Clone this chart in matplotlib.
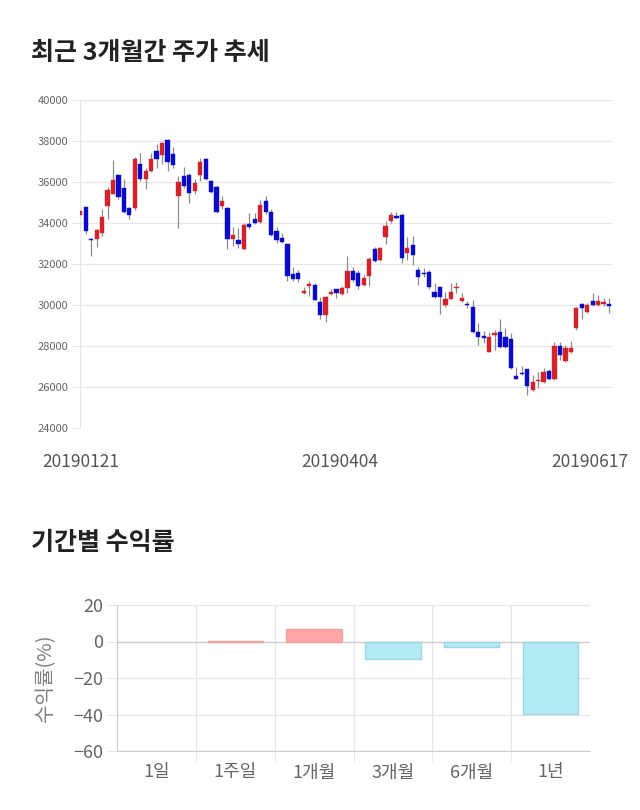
import numpy as np
import matplotlib
matplotlib.use("Agg")
import matplotlib.pyplot as plt
import matplotlib.transforms as mtransforms

plt.rcParams['font.family'] = ['Noto Sans CJK KR', 'DejaVu Sans']

# ---------------------------------------------------------------
# daily candles, 2019-01-21 .. 2019-06-17
# ---------------------------------------------------------------
opens = [34400, 34800, 33200, 33240, 33530, 34830, 35430, 36360, 35690, 34750,
         34715, 36860, 36130, 36550, 37530, 37300, 38050, 37350, 35320, 36290,
         36340, 35560, 36340, 37140, 36050, 35770, 34830, 34750, 33240, 33150,
         32750, 33970, 34195, 34065, 35070, 34520, 33630, 33250, 32980, 31510,
         31545, 30570, 30950, 30975, 30160, 29510, 30540, 30764, 30520, 30813,
         31675, 31545, 30975, 31415, 32716, 32195, 33333, 34114, 34300, 34390,
         32520, 32927, 31707, 31550, 31626, 30618, 30862, 30000, 30293, 30830,
         30211, 30020, 29886, 28699, 28440, 27723, 28550, 28699, 28456, 28326,
         26537, 26670, 26862, 25854, 26270, 26260, 26797, 26374, 28000, 27285,
         27692, 28862, 30033, 29643, 30212, 30000, 30049, 30049]
highs = [34850, 34800, 33250, 33700, 34670, 35770, 37060, 36400, 36130, 34800,
         37240, 37400, 36700, 37400, 37840, 37950, 38100, 37700, 36290, 36750,
         36450, 36130, 37190, 37190, 36100, 35850, 35320, 34800, 33820, 33770,
         34020, 34500, 34470, 35120, 35320, 34700, 33820, 33530, 33000, 31840,
         31700, 30900, 31190, 31060, 30400, 30440, 30800, 30800, 30930, 32390,
         31870, 31700, 31460, 32360, 32850, 32850, 34114, 34553, 34550, 34500,
         33333, 33370, 31837, 31790, 31700, 31057, 30900, 30650, 31090, 31138,
         30570, 30190, 30244, 29138, 28748, 28700, 28780, 29300, 28862, 28620,
         26960, 27025, 26900, 26590, 26750, 26910, 26860, 28212, 28212, 28050,
         28261, 29920, 30080, 30110, 30570, 30488, 30320, 30320]
lows = [34300, 33450, 32400, 32850, 33350, 34210, 35400, 35150, 34500, 34180,
        34650, 36050, 35680, 36500, 36700, 36900, 36540, 36700, 33770, 35700,
        34960, 35400, 36050, 36100, 35450, 34500, 34660, 32750, 32880, 32760,
        32700, 33700, 33950, 33980, 34450, 33370, 33010, 33040, 31190, 31150,
        31140, 30550, 30440, 30245, 29300, 29190, 30500, 30325, 30500, 30570,
        31140, 30764, 30927, 30927, 32100, 32160, 32976, 34000, 34180, 32033,
        32195, 31951, 30975, 31380, 30800, 30330, 29561, 29920, 30270, 30569,
        30160, 29840, 28650, 28049, 28130, 27700, 27805, 27900, 27880, 26900,
        26370, 26590, 25610, 25820, 25936, 26180, 26340, 26340, 27318, 27240,
        27640, 28780, 29301, 29600, 29940, 29940, 29950, 29594]
closes = [34600, 33600, 33150, 33640, 34310, 35590, 36100, 35270, 34550, 34390,
          37140, 36130, 36540, 37140, 37140, 37890, 36980, 36830, 36000, 35800,
          35450, 35935, 36990, 36130, 35530, 34550, 35060, 33240, 33400, 32960,
          33890, 33820, 34020, 34880, 34520, 33415, 33170, 33090, 31415, 31250,
          31250, 30680, 31000, 30245, 29510, 30410, 30650, 30570, 30813, 31675,
          31220, 30927, 31300, 32228, 32163, 32765, 33854, 34390, 34250, 32277,
          32765, 32439, 31350, 31500, 30894, 30406, 30406, 30293, 30618, 30880,
          30358, 29980, 28699, 28423, 28410, 28423, 28590, 27967, 27968, 26944,
          26407, 26630, 26050, 26260, 26310, 26750, 26390, 28000, 27562, 27887,
          27887, 29838, 29870, 30000, 30000, 30212, 30130, 29952]
date_labels = ["20190121", "20190404", "20190617"]
date_pos = [0, 48, 97]

# returns by period
periods = ["1일", "1주일", "1개월", "3개월", "6개월", "1년"]
returns = [0.0, 0.1, 6.8, -9.8, -2.8, -39.6]

RED = "#d2232a"
BLUE = "#0a0ac8"
WICK = "#8c8c8c"
GRID = "#e6e6e6"
TXT = "#666666"

W, H = 640, 810
fig = plt.figure(figsize=(W / 100, H / 100), dpi=100)
fig.patch.set_facecolor("white")


def px_axes(left, top, right, bottom):
    return fig.add_axes([left / W, 1 - bottom / H, (right - left) / W, (bottom - top) / H])


########################################################################
# candlestick chart
########################################################################
fig.text(31 / W, 1 - 53 / H, "최근 3개월간 주가 추세", fontsize=18, fontweight="bold",
         color="#222222", va="center", ha="left")

ax = px_axes(79.5, 100, 612, 428)
x = np.arange(len(opens))
o = np.array(opens); c = np.array(closes)
hi = np.array(highs); lo = np.array(lows)
up = c >= o
colors = np.where(up, RED, BLUE)
body_lo = np.minimum(o, c)
body_h = np.maximum(np.abs(c - o), 70)

ax.vlines(x, lo, hi, color=WICK, linewidth=0.9, zorder=2)
ax.bar(x, body_h, bottom=body_lo, width=0.78, color=colors, edgecolor=colors,
       linewidth=0.3, zorder=3)

ax.set_xlim(-0.15, 97.55)
ax.set_ylim(24000, 40000)
ax.set_yticks(np.arange(24000, 40001, 2000))
ax.yaxis.grid(True, color=GRID, linewidth=0.9)
ax.set_axisbelow(True)
for s in ["top", "right", "bottom"]:
    ax.spines[s].set_visible(False)
ax.spines["left"].set_color(GRID)
ax.tick_params(axis="y", length=6, color=GRID, labelsize=8, labelcolor=TXT, pad=2)
ax.set_xticks(date_pos)
ax.set_xticklabels(date_labels)
ax.tick_params(axis="x", length=0, labelsize=12.5, labelcolor="#555555", pad=18)
lbls = ax.get_xticklabels()
lbls[-1].set_transform(lbls[-1].get_transform() +
                       mtransforms.ScaledTranslation(-19 / 100, 0, fig.dpi_scale_trans))
lbls[1].set_transform(lbls[1].get_transform() +
                      mtransforms.ScaledTranslation(-2 / 100, 0, fig.dpi_scale_trans))

########################################################################
# period returns
########################################################################
fig.text(31 / W, 1 - 543 / H, "기간별 수익률", fontsize=18, fontweight="bold",
         color="#222222", va="center", ha="left")

bx = px_axes(117, 605, 590, 751)
pos = np.arange(len(periods))
fills = ["#ffa6a6" if v > 0 else "#b3ebf4" for v in returns]
edges = ["#f3a0a0" if v > 0 else "#9ad8e3" for v in returns]
widths = [0 if v == 0 else 1 for v in returns]
bx.bar(pos, returns, width=0.7, color=fills, edgecolor=edges, linewidth=widths, zorder=3)

bx.set_xlim(-0.5, 5.5)
bx.set_ylim(-60, 20)
bx.set_yticks([20, 0, -20, -40, -60])
bx.set_xticks(pos)
bx.set_xticklabels(periods)
bx.set_xticks(np.arange(0.5, 5.0, 1.0), minor=True)
bx.yaxis.grid(True, color=GRID, linewidth=0.9)
bx.xaxis.grid(True, which="minor", color=GRID, linewidth=0.9)
bx.axhline(0, color="#d0d0d0", linewidth=1, zorder=2)
bx.set_axisbelow(True)
for s in ["top", "right"]:
    bx.spines[s].set_visible(False)
bx.spines["left"].set_color("#cccccc")
bx.spines["bottom"].set_color("#cccccc")
bx.tick_params(axis="y", length=7, color=GRID, labelsize=13, labelcolor=TXT, pad=3)
bx.tick_params(axis="x", which="major", length=0, labelsize=13, labelcolor=TXT, pad=9)
bx.tick_params(axis="x", which="minor", length=8, color=GRID)
bx.set_ylabel("수익률(%)", fontsize=14.5, color="#808080", labelpad=12)

fig.savefig("out.png", dpi=100, facecolor="white")
